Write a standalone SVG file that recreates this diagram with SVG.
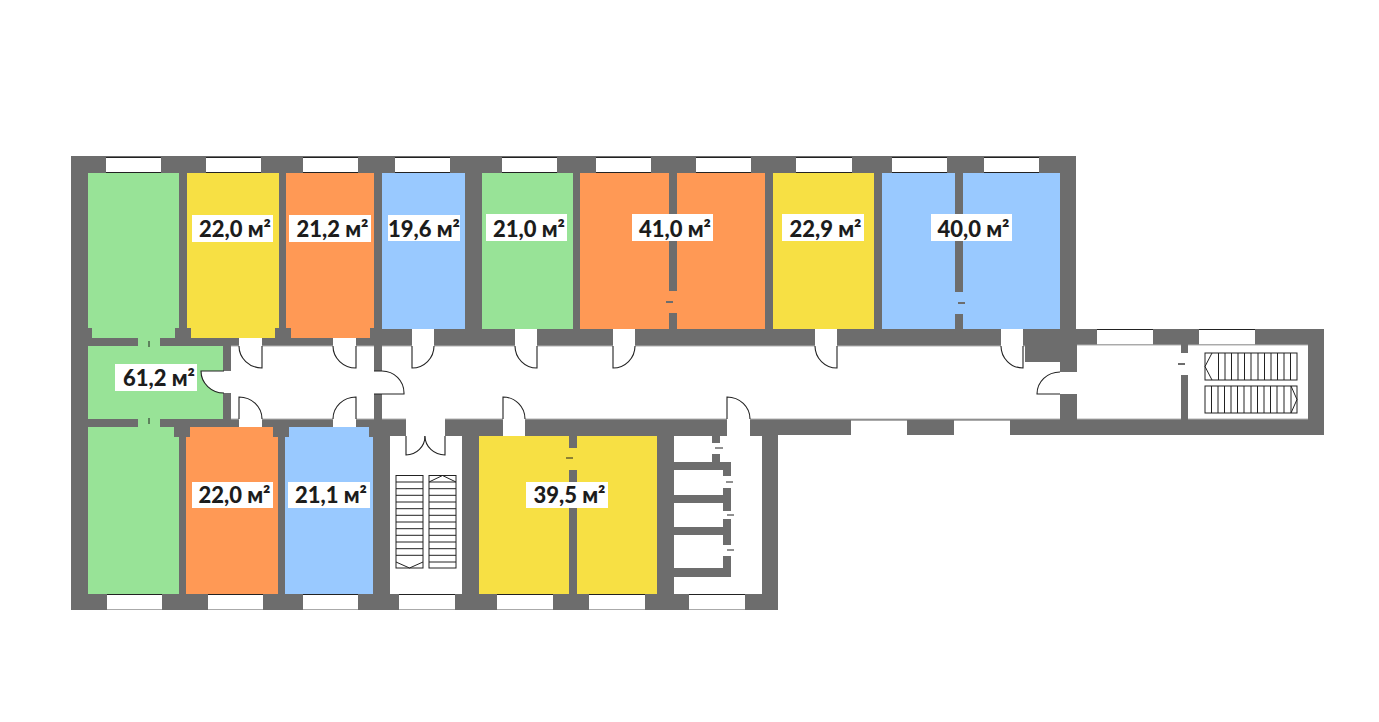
<svg xmlns="http://www.w3.org/2000/svg" width="1379" height="722" viewBox="0 0 1379 722">
<style>
.wall{fill:#6d6d6d}
.g{fill:#98e397}.y{fill:#f7e044}.o{fill:#ff9955}.b{fill:#99c9ff}.w{fill:#fff}
.door{fill:#fff;stroke:#222;stroke-width:1.1}
.edge{fill:none;stroke:#b0b0b0;stroke-width:1}
.wl{fill:none;stroke:#222;stroke-width:1}
.wg{fill:none;stroke:#aaa;stroke-width:1}
.tick{stroke:#222;stroke-width:1;fill:none}
.tg{stroke:#6d6d6d;stroke-width:2;fill:none}
.st{fill:#fff;stroke:#222;stroke-width:1}
.lb{fill:#fff}
text{font-family:"Lato","Liberation Sans",sans-serif;font-weight:900;font-size:22px;fill:#1c1c1c;text-anchor:middle}
</style>
<rect width="1379" height="722" fill="#fff"/>
<path id="walls" class="wall" d="M71 156H1076V329H1324V435H778V610H71Z"/>
<g id="rooms">
<path class="g" d="M88 173H179V328H175V338H92V328H88Z"/>
<path class="y" d="M187 173H279V328H275V338H191V328H187Z"/>
<path class="o" d="M286 173H374V328H370V338H291V328H286Z"/>
<rect class="b" x="382" y="173" width="83" height="156"/>
<rect class="g" x="482" y="173" width="91" height="156"/>
<rect class="o" x="580" y="173" width="89" height="156"/>
<rect class="o" x="677" y="173" width="88" height="156"/>
<rect class="o" x="669" y="291" width="8" height="22"/>
<rect class="y" x="773" y="173" width="101" height="156"/>
<rect class="b" x="882" y="173" width="73" height="156"/>
<rect class="b" x="963" y="173" width="97" height="156"/>
<rect class="b" x="955" y="292" width="8" height="22"/>
<rect class="g" x="88" y="346" width="135" height="73"/>
<rect class="g" x="138" y="338" width="22" height="8"/>
<rect class="g" x="138" y="419" width="22" height="8"/>
<path class="g" d="M88 427H174V437H179V594H88Z"/>
<path class="o" d="M190 427H273V437H278V594H186V437H190Z"/>
<path class="b" d="M289 427H369V437H373V594H285V437H289Z"/>
<rect class="y" x="479" y="436" width="90" height="158"/>
<rect class="y" x="577" y="436" width="80" height="158"/>
<rect class="y" x="569" y="448" width="8" height="22"/>
</g>
<g id="white-spaces">
<rect class="w" x="231" y="346" width="143" height="73"/>
<rect class="w" x="382" y="346" width="678" height="73"/>
<rect class="wall" x="1025" y="346" width="35" height="16"/>
<rect class="w" x="1077" y="345" width="104" height="74"/>
<rect class="w" x="1188" y="345" width="120" height="74"/>
<rect class="w" x="1181" y="353" width="7" height="22"/>
<rect class="w" x="223" y="371" width="8" height="22"/>
<rect class="w" x="374" y="371" width="8" height="22"/>
<rect class="w" x="1060" y="372" width="17" height="22"/>
<rect class="w" x="390" y="436" width="72" height="158"/>
<rect class="w" x="674" y="436" width="88" height="158"/>
<rect class="wall" x="674" y="462" width="57" height="8"/>
<rect class="wall" x="723" y="470" width="8" height="6"/>
<rect class="wall" x="723" y="488" width="8" height="23"/>
<rect class="wall" x="723" y="519" width="8" height="26"/>
<rect class="wall" x="723" y="556" width="8" height="21"/>
<rect class="wall" x="674" y="495" width="49" height="8"/>
<rect class="wall" x="674" y="527" width="49" height="8"/>
<rect class="wall" x="674" y="568" width="57" height="9"/>
<rect class="wall" x="712" y="436" width="8" height="7"/>
<rect class="wall" x="712" y="454" width="8" height="8"/>
<path class="edge" d="M382 346H1025M231 346H374M382 419H1060M231 419H374M1077 419H1181M1188 419H1308M1077 345H1181M1188 345H1308"/>
</g>
<g id="openings">
<rect class="w" x="239" y="338" width="23" height="9"/>
<rect class="w" x="333" y="338" width="23" height="9"/>
<rect class="w" x="412" y="329" width="22" height="18"/>
<rect class="w" x="515" y="329" width="22" height="18"/>
<rect class="w" x="613" y="329" width="22" height="18"/>
<rect class="w" x="815" y="329" width="22" height="18"/>
<rect class="w" x="1001" y="329" width="22" height="18"/>
<rect class="w" x="239" y="418" width="23" height="9"/>
<rect class="w" x="333" y="418" width="23" height="9"/>
<rect class="w" x="406" y="418" width="39" height="18"/>
<rect class="w" x="503" y="418" width="22" height="18"/>
<rect class="w" x="727" y="418" width="23" height="18"/>
</g>
<g id="windows">
<rect class="w" x="106" y="157" width="55" height="15"/>
<rect class="w" x="206" y="157" width="55" height="15"/>
<rect class="w" x="303" y="157" width="55" height="15"/>
<rect class="w" x="395" y="157" width="55" height="15"/>
<rect class="w" x="502" y="157" width="55" height="15"/>
<rect class="w" x="596" y="157" width="55" height="15"/>
<rect class="w" x="696" y="157" width="55" height="15"/>
<rect class="w" x="796" y="157" width="56" height="15"/>
<rect class="w" x="892" y="157" width="55" height="15"/>
<rect class="w" x="984" y="157" width="55" height="15"/>
<rect class="w" x="1097" y="329" width="56" height="15"/>
<rect class="w" x="1199" y="329" width="56" height="15"/>
<rect class="w" x="107" y="595" width="55" height="14"/>
<rect class="w" x="208" y="595" width="55" height="14"/>
<rect class="w" x="303" y="595" width="55" height="14"/>
<rect class="w" x="399" y="595" width="56" height="14"/>
<rect class="w" x="497" y="595" width="56" height="14"/>
<rect class="w" x="589" y="595" width="56" height="14"/>
<rect class="w" x="689" y="595" width="56" height="14"/>
<rect class="w" x="851" y="421" width="56" height="14"/>
<rect class="w" x="954" y="421" width="56" height="14"/>
<path class="wl" d="M106 157.500H161M106 172.500H161M206 157.500H261M206 172.500H261M303 157.500H358M303 172.500H358M395 157.500H450M395 172.500H450M502 157.500H557M502 172.500H557M596 157.500H651M596 172.500H651M696 157.500H751M696 172.500H751M796 157.500H852M796 172.500H852M892 157.500H947M892 172.500H947M984 157.500H1039M984 172.500H1039M1097 329.500H1153M1199 329.500H1255M107 594.500H162M208 594.500H263M303 594.500H358M399 594.500H455M497 594.500H553M589 594.500H645M689 594.500H745"/>
<path class="wg" d="M851 420.500H907M954 420.500H1010M1097 344.500H1153M1199 344.500H1255M107 609.500H162M208 609.500H263M303 609.500H358M399 609.500H455M497 609.500H553M589 609.500H645M689 609.500H745"/>
</g>
<g id="doors">
<path class="door" d="M262 346V368A23 22 0 0 1 239 346"/>
<path class="door" d="M356 346V368A23 22 0 0 1 333 346"/>
<path class="door" d="M412 346V368A22 22 0 0 0 434 346"/>
<path class="door" d="M537 346V368A22 22 0 0 1 515 346"/>
<path class="door" d="M613 346V368A22 22 0 0 0 635 346"/>
<path class="door" d="M837 346V368A22 22 0 0 1 815 346"/>
<path class="door" d="M1023 346V368A22 22 0 0 1 1001 346"/>
<path class="door" d="M239 419V397A23 22 0 0 1 262 419"/>
<path class="door" d="M356 419V397A23 22 0 0 0 333 419"/>
<path class="door" d="M406 436V455A19 19 0 0 0 425 436"/>
<path class="door" d="M445 436V455A20 19 0 0 1 425 436"/>
<path class="door" d="M503 419V397A22 22 0 0 1 525 419"/>
<path class="door" d="M727 419V397A23 22 0 0 1 750 419"/>
<path class="door" d="M224 371H201A23 22 0 0 0 224 393"/>
<path class="door" d="M374 371H382A22 22 0 0 1 404 393V394H374"/>
<path class="door" d="M1060 394H1037A23 22 0 0 1 1060 372"/>
</g>
<g id="ticks">
<path class="tick" d="M149 341V347M149 418V424M566 458H573M715 448H723M726 482H733M727 515H734M727 550H734"/>
<path class="tg" d="M666 302H673M958 303H965M1178 364H1185"/>
</g>
<g id="stairs">
<rect class="st" x="396" y="475.500" width="27" height="92.500"/>
<path class="tick" d="M396 482H423M396 488.700H423M396 495.300H423M396 502H423M396 508.700H423M396 515.300H423M396 522H423M396 528.700H423M396 535.300H423M396 542H423M396 548.700H423M396 555.300H423M396 562L409.500 568L423 562"/>
<rect class="st" x="429" y="475.500" width="27" height="92.500"/>
<path class="tick" d="M429 482L442.500 475.500L456 482M429 482H456M429 488.700H456M429 495.300H456M429 502H456M429 508.700H456M429 515.300H456M429 522H456M429 528.700H456M429 535.300H456M429 542H456M429 548.700H456M429 555.300H456M429 562H456"/>
<rect class="st" x="1205" y="353" width="92" height="27"/>
<path class="tick" d="M1212 353L1205 366.500L1212 380M1218.500 353V380M1225 353V380M1231.500 353V380M1238 353V380M1244.500 353V380M1251 353V380M1258 353V380M1264.500 353V380M1271 353V380M1277.500 353V380M1284 353V380M1290.500 353V380"/>
<rect class="st" x="1205" y="386" width="92" height="27"/>
<path class="tick" d="M1291 386L1297 399.500L1291 413M1211.500 386V413M1218 386V413M1224.500 386V413M1231 386V413M1237.500 386V413M1244 386V413M1251 386V413M1257.500 386V413M1264 386V413M1270.500 386V413M1277 386V413M1284 386V413M1291 386V413"/>
</g>
<g id="labels">
<rect class="lb" x="192" y="215" width="81" height="27"/><text x="235" y="237">22,0 м²</text>
<rect class="lb" x="289" y="215" width="82" height="27"/><text x="332.500" y="237">21,2 м²</text>
<rect class="lb" x="388" y="215" width="72" height="26"/><text x="424" y="237">19,6 м²</text>
<rect class="lb" x="486" y="214" width="81" height="27"/><text x="529" y="237">21,0 м²</text>
<rect class="lb" x="632" y="214" width="81" height="27"/><text x="675" y="237">41,0 м²</text>
<rect class="lb" x="782" y="214" width="82" height="27"/><text x="825.500" y="237">22,9 м²</text>
<rect class="lb" x="931" y="214" width="81" height="27"/><text x="973.500" y="237">40,0 м²</text>
<rect class="lb" x="115" y="364" width="82" height="27"/><text x="159" y="386">61,2 м²</text>
<rect class="lb" x="192" y="482" width="81" height="26"/><text x="234.500" y="503">22,0 м²</text>
<rect class="lb" x="288" y="482" width="82" height="26"/><text x="331" y="503">21,1 м²</text>
<rect class="lb" x="526" y="482" width="82" height="26"/><text x="569.500" y="503">39,5 м²</text>
</g>
</svg>
